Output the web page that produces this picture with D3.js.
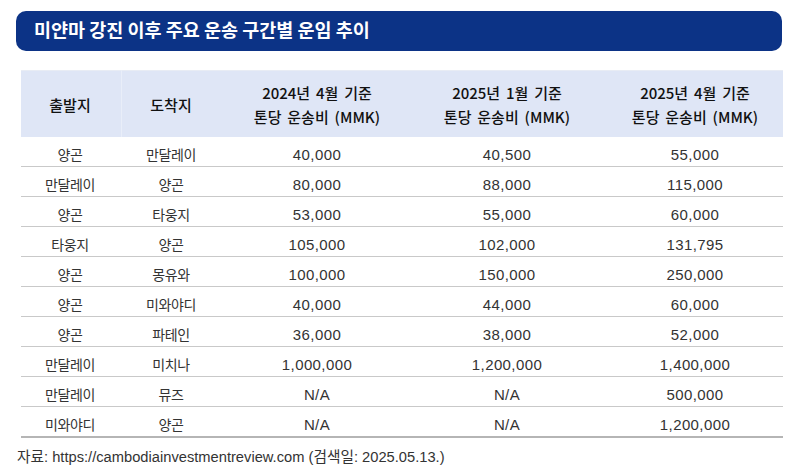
<!DOCTYPE html>
<html>
<head>
<meta charset="utf-8">
<script src="https://cdn.jsdelivr.net/npm/d3@7"></script>
<style>
  html, body { margin: 0; padding: 0; background: #fff; }
  text { font-family: "Liberation Sans", "Noto Sans CJK KR", sans-serif; }
  .ko { font-family: "Noto Sans CJK KR", sans-serif; }
</style>
</head>
<body>
<svg id="canvas" width="809" height="474"></svg>
<script>
// Table content
const title = "미얀마 강진 이후 주요 운송 구간별 운임 추이";
const source = "자료: https://cambodiainvestmentreview.com (검색일: 2025.05.13.)";

const columns = ["origin", "dest", "apr2024", "jan2025", "apr2025"];
const headers = [
    ["출발지"],
    ["도착지"],
    ["2024년 4월 기준", "톤당 운송비 (MMK)"],
    ["2025년 1월 기준", "톤당 운송비 (MMK)"],
    ["2025년 4월 기준", "톤당 운송비 (MMK)"]
];

const origins = ["양곤", "만달레이", "양곤", "타웅지", "양곤", "양곤", "양곤", "만달레이", "만달레이", "미와야디"];
const destinations = ["만달레이", "양곤", "타웅지", "양곤", "몽유와", "미와야디", "파테인", "미치나", "뮤즈", "양곤"];
const costApr2024 = [40000, 80000, 53000, 105000, 100000, 40000, 36000, 1000000, null, null];
const costJan2025 = [40500, 88000, 55000, 102000, 150000, 44000, 38000, 1200000, null, null];
const costApr2025 = [55000, 115000, 60000, 131795, 250000, 60000, 52000, 1400000, 500000, 1200000];

const rows = origins.map((o, i) => ({
    origin: o,
    dest: destinations[i],
    apr2024: costApr2024[i],
    jan2025: costJan2025[i],
    apr2025: costApr2025[i]
}));

const svg = d3.select("#canvas");
const fmt = d3.format(",");
const cell = (v) => v === null ? "N/A" : (typeof v === "number" ? fmt(v) : v);

// Layout
const left = 21, right = 783;
const headerTop = 70, headerH = 67, rowH = 30;

const x = d3.scaleOrdinal()
    .domain(columns)
    .range([70, 171, 317, 507, 695]);

const y = d3.scaleBand()
    .domain(d3.range(rows.length))
    .range([headerTop + headerH, headerTop + headerH + rowH * rows.length]);

// Title bar
svg.append("rect")
    .attr("x", 16).attr("y", 11)
    .attr("width", 766).attr("height", 40)
    .attr("rx", 10)
    .attr("fill", "#0c3386");

svg.append("text")
    .attr("class", "ko")
    .attr("x", 34).attr("y", 37)
    .attr("fill", "#fff")
    .attr("font-size", 18.5)
    .attr("font-weight", 700)
    .text(title);

// Header
svg.append("rect")
    .attr("x", left).attr("y", headerTop)
    .attr("width", right - left).attr("height", headerH)
    .attr("fill", "#dfe6f6");

svg.append("line")
    .attr("x1", left).attr("x2", right)
    .attr("y1", headerTop + 0.5).attr("y2", headerTop + 0.5)
    .attr("stroke", "#e8ecf4");

svg.append("line")
    .attr("x1", 121.5).attr("x2", 121.5)
    .attr("y1", headerTop).attr("y2", headerTop + headerH)
    .attr("stroke", "#e9eef9");

svg.append("g").selectAll("text")
    .data(headers)
    .join("text")
    .attr("class", "ko")
    .attr("text-anchor", "middle")
    .attr("font-size", 15)
    .attr("font-weight", 500)
    .attr("word-spacing", 2.5)
    .attr("fill", "#111")
    .each(function (lines, j) {
        d3.select(this).selectAll("tspan")
            .data(lines)
            .join("tspan")
            .attr("x", x(columns[j]))
            .attr("y", (d, i) => lines.length === 1 ? 111 : 99 + i * 24)
            .text((d) => d);
    });

// Body rows
const body = svg.append("g");

body.selectAll("line.row")
    .data(rows.slice(0, -1))
    .join("line")
    .attr("class", "row")
    .attr("x1", left).attr("x2", right)
    .attr("y1", (d, i) => y(i) + rowH - 0.5)
    .attr("y2", (d, i) => y(i) + rowH - 0.5)
    .attr("stroke", "#c9c9c9");

body.append("line")
    .attr("x1", left).attr("x2", right)
    .attr("y1", y(rows.length - 1) + rowH)
    .attr("y2", y(rows.length - 1) + rowH)
    .attr("stroke", "#b5b5b5")
    .attr("stroke-width", 2);

const rowG = body.selectAll("g.r")
    .data(rows)
    .join("g")
    .attr("class", "r")
    .attr("transform", (d, i) => `translate(0,${y(i) + rowH / 2 + 8})`);

rowG.selectAll("text")
    .data((d) => columns.map((c) => ({ c, v: d[c] })))
    .join("text")
    .attr("class", (d) => typeof d.v === "string" ? "ko" : null)
    .attr("x", (d) => x(d.c))
    .attr("text-anchor", "middle")
    .attr("font-size", (d) => typeof d.v === "string" ? 14 : 15)
    .attr("letter-spacing", (d) => typeof d.v === "string" ? -0.4 : 0.4)
    .attr("fill", "#333")
    .text((d) => cell(d.v));

// Source note
svg.append("text")
    .attr("x", 17).attr("y", 462)
    .attr("font-size", 14.7)
    .attr("fill", "#333")
    .text(source);
</script>
</body>
</html>
